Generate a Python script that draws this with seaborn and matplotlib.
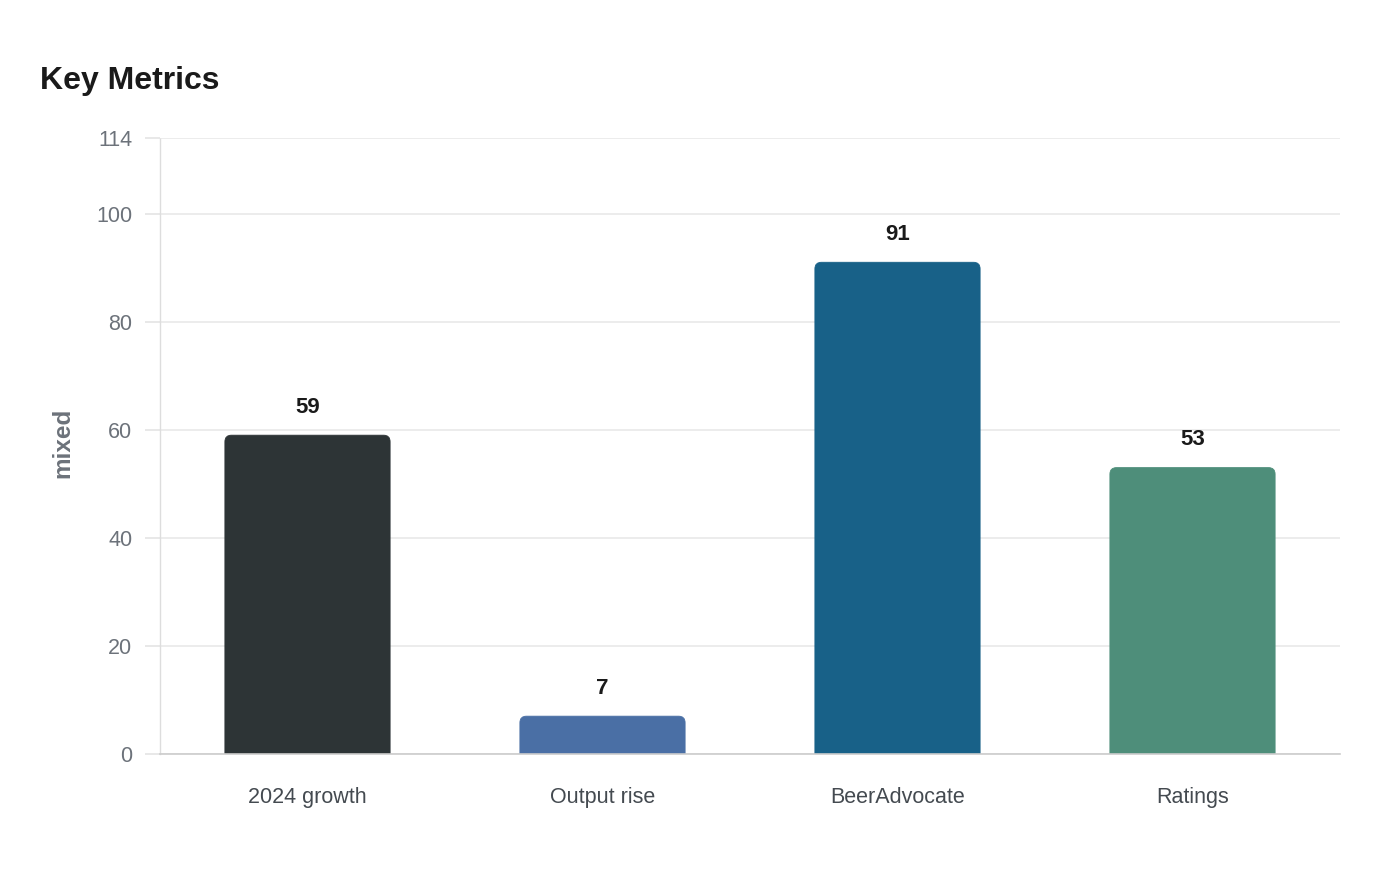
import numpy as np
import pandas as pd
import matplotlib
matplotlib.use('Agg')
import matplotlib.pyplot as plt
from matplotlib.patches import FancyBboxPatch
import seaborn as sns

# data
categories = ['2024 growth', 'Output rise', 'BeerAdvocate', 'Ratings']
values = [59, 7, 91, 53]
colors = ['#2d3436', '#4a6fa5', '#186188', '#4e8e7a']
yticks = [0, 20, 40, 60, 80, 100, 114]

sns.set_theme(style='white')
plt.rcParams['font.family'] = ['Liberation Sans', 'DejaVu Sans']

df = pd.DataFrame({'cat': categories, 'val': values})

fig = plt.figure(figsize=(14, 8.8), dpi=100)
ax = fig.add_axes([160 / 1400, 1 - 754 / 880, 1180 / 1400, 616 / 880])

sns.barplot(data=df, x='cat', y='val', hue='cat', palette=colors, legend=False,
            width=0.56, ax=ax, saturation=1)

ax.set_xlim(-0.5, 3.5)
ax.set_ylim(0, 114)

# rounded top corners: swap each bar for a rounded box, bottom hidden under axis
for p, c in zip(list(ax.patches), colors):
    x, w, h = p.get_x(), p.get_width(), p.get_height()
    p.remove()
    box = FancyBboxPatch((x, -5), w, h + 5,
                         boxstyle='round,pad=0,rounding_size=0.022',
                         mutation_aspect=55, facecolor=c, edgecolor=c,
                         linewidth=0.6, zorder=2)
    ax.add_patch(box)

for i, v in enumerate(values):
    ax.annotate(str(v), (i, v), xytext=(0, 20), textcoords='offset points',
                ha='center', va='center', fontsize=16, fontweight='bold',
                color='#1a1a1a')

ax.set_yticks(yticks)
ax.yaxis.grid(True, color='#e9e9e9', linewidth=1.2)
ax.set_axisbelow(True)
ax.tick_params(axis='y', left=True, length=11, color='#e4e4e4', width=1.2, pad=9,
               labelsize=15.5, labelcolor='#6c727a')
ax.tick_params(axis='x', bottom=False, length=0, pad=24, labelsize=15.5,
               labelcolor='#444a50')

for s in ['top', 'right']:
    ax.spines[s].set_visible(False)
ax.spines['left'].set_color('#dddddd')
ax.spines['left'].set_linestyle((0, (1, 1)))
ax.spines['left'].set_linewidth(1)
ax.spines['bottom'].set_color('#cccccc')
ax.spines['bottom'].set_linewidth(1.2)

ax.set_xlabel('')
ax.set_ylabel('mixed', fontsize=17.5, fontweight='bold', color='#6c727a')
ax.yaxis.set_label_coords(-86 / 1180, 0.505)

fig.text(40 / 1400, 1 - 81 / 880, 'Key Metrics', fontsize=23, fontweight='bold',
         color='#1a1a1a', ha='left', va='center')

fig.savefig('out.png', dpi=100, facecolor='white')
